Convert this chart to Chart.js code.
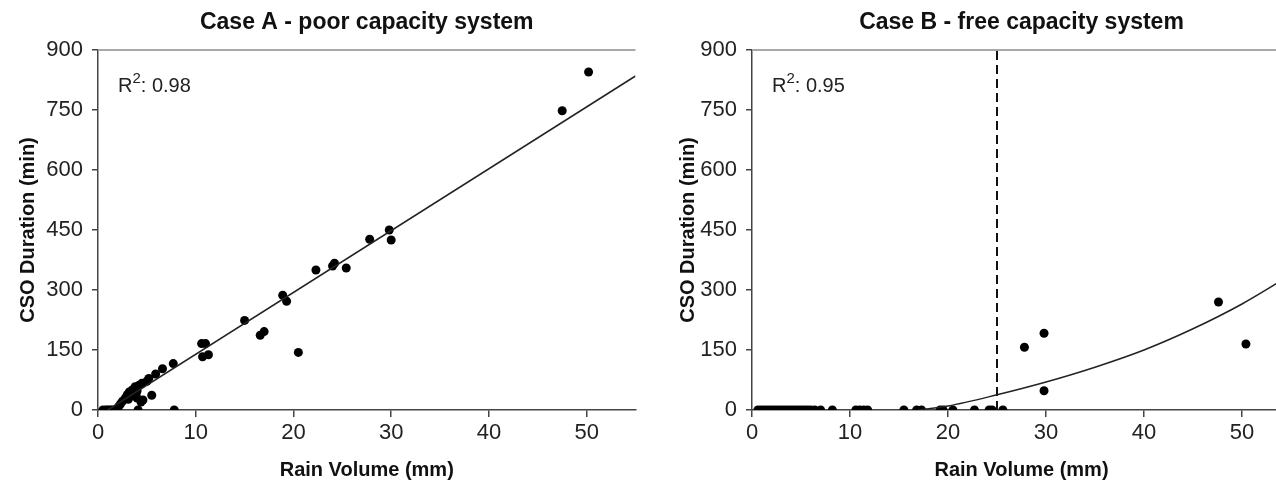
<!DOCTYPE html>
<html>
<head>
<meta charset="utf-8">
<script src="https://cdn.jsdelivr.net/npm/chart.js@4"></script>
<style>
  html, body { margin: 0; padding: 0; background: #fff; }
  body { width: 1276px; height: 486px; overflow: hidden; position: relative; }
  .panel { position: absolute; top: 0; height: 486px; }
  #panelA { left: 0; width: 640px; }
  #panelB { left: 640px; width: 660px; }
</style>
</head>
<body>
<div class="panel" id="panelA"><canvas id="chartA"></canvas></div>
<div class="panel" id="panelB"><canvas id="chartB"></canvas></div>
<script>
const FONT = "'Liberation Sans', Arial, sans-serif";

const xTickStep = 10;
const yTickStep = 150;
const xMax = 55;
const yMax = 900;

// Case A - poor capacity system
const caseARain = [
  0.5, 0.8, 1.0, 1.2, 1.4, 1.6, 1.9, 4.1, 7.8,
  2.1, 2.3, 2.5, 2.8, 3.0, 3.1, 3.2, 3.5, 3.6, 3.8, 3.9, 4.0, 4.0, 4.2, 4.4, 4.5, 4.6,
  5.0, 5.2, 5.5, 5.9, 6.6, 7.7,
  10.6, 11.0, 10.7, 11.3, 15.0, 16.6, 17.0, 18.9, 19.3, 20.5,
  22.3, 24.0, 24.2, 25.4, 27.8, 29.8, 30.0, 47.5, 50.2
];
const caseADuration = [
  0, 0, 0, 0, 0, 0, 0, 0, 0,
  8, 15, 22, 30, 38, 27, 45, 50, 35, 58, 42, 48, 30, 62, 20, 67, 25,
  72, 79, 37, 90, 103, 116,
  166, 166, 133, 138, 224, 187, 196, 287, 272, 144,
  350, 360, 367, 355, 427, 450, 425, 748, 845
];
const caseAFitRain = [1, 55];
const caseAFitDuration = [0, 835];

// Case B - free capacity system
const caseBRain = [
  0.6, 0.9, 1.2, 1.5, 1.8, 2.1, 2.4, 2.7, 3.0, 3.3, 3.6, 3.9, 4.2, 4.5, 4.8, 5.1,
  5.4, 5.7, 6.0, 6.4, 7.0, 8.2, 10.6, 11.0, 11.4, 11.8, 15.5, 16.8, 17.3, 19.2,
  19.5, 20.5, 22.7, 24.2, 24.5, 25.6,
  27.8, 29.8, 29.8, 47.6, 50.4
];
const caseBDuration = [
  0, 0, 0, 0, 0, 0, 0, 0, 0, 0, 0, 0, 0, 0, 0, 0,
  0, 0, 0, 0, 0, 0, 0, 0, 0, 0, 0, 0, 0, 0,
  0, 0, 0, 0, 0, 0,
  157, 192, 48, 270, 165
];
const caseBFitRain = [17, 20, 25, 30, 35, 40, 45, 50, 55];
const caseBFitDuration = [0, 10, 38, 70, 107, 150, 203, 265, 338];
const caseBThreshold = 25;

const toPoints = (xs, ys) => xs.map((x, i) => ({ x, y: ys[i] }));

const panelDecor = {
  id: "panelDecor",
  afterDraw(chart, args, opts) {
    const { ctx, chartArea } = chart;
    ctx.save();
    ctx.strokeStyle = "#a8a8a8";
    ctx.lineWidth = 2;
    ctx.beginPath();
    ctx.moveTo(chartArea.left, chartArea.top);
    ctx.lineTo(chartArea.right, chartArea.top);
    ctx.stroke();

    ctx.fillStyle = "#111";
    ctx.textBaseline = "alphabetic";
    ctx.textAlign = "center";
    ctx.font = `bold 23px ${FONT}`;
    ctx.fillText(opts.title, (chartArea.left + chartArea.right) / 2, 29);

    ctx.textAlign = "left";
    ctx.fillStyle = "#222";
    let x = chartArea.left + 20;
    const y = chartArea.top + 42;
    ctx.font = `20px ${FONT}`;
    ctx.fillText("R", x, y);
    x += ctx.measureText("R").width;
    ctx.font = `15px ${FONT}`;
    ctx.fillText("2", x, y - 9);
    x += ctx.measureText("2").width;
    ctx.font = `20px ${FONT}`;
    ctx.fillText(": " + opts.r2, x, y);
    ctx.restore();
  },
};

function makeScales(titleOffset) {
  const axisColor = "#444";
  return {
    x: {
      type: "linear",
      min: 0,
      max: xMax,
      ticks: {
        stepSize: xTickStep,
        includeBounds: false,
        color: "#222",
        font: { size: 22, family: FONT },
        padding: 3,
        maxRotation: 0,
      },
      grid: { drawOnChartArea: false, tickLength: 7, color: axisColor, lineWidth: 1.5 },
      border: { color: axisColor, width: 1.5 },
      title: {
        display: true,
        text: "Rain Volume (mm)",
        color: "#111",
        font: { size: 20, weight: "bold", family: FONT },
        padding: { top: 0, bottom: 4 },
      },
      afterFit(scale) { scale.height = 76; },
    },
    y: {
      min: 0,
      max: yMax,
      ticks: {
        stepSize: yTickStep,
        includeBounds: false,
        color: "#222",
        font: { size: 22, family: FONT },
        padding: 9,
      },
      grid: { drawOnChartArea: false, tickLength: 6, color: axisColor, lineWidth: 1.5 },
      border: { color: axisColor, width: 1.5 },
      title: {
        display: true,
        text: "CSO Duration (min)",
        color: "#111",
        font: { size: 20, weight: "bold", family: FONT },
        padding: { top: titleOffset, bottom: 0 },
      },
      afterFit(scale) { scale.width = 98; },
    },
  };
}

function makeChart(id, datasets, decor, padding, titleOffset) {
  return new Chart(document.getElementById(id), {
    type: "scatter",
    data: { datasets },
    options: {
      responsive: true,
      maintainAspectRatio: false,
      animation: false,
      layout: { padding },
      plugins: {
        legend: { display: false },
        tooltip: { enabled: false },
        panelDecor: decor,
      },
      scales: makeScales(titleOffset),
    },
    plugins: [panelDecor],
  });
}

const pointStyle = {
  pointRadius: 4.5,
  pointBackgroundColor: "#000",
  pointBorderWidth: 0,
  showLine: false,
};

makeChart(
  "chartA",
  [
    {
      type: "line",
      data: toPoints(caseAFitRain, caseAFitDuration),
      borderColor: "#222",
      borderWidth: 1.5,
      pointRadius: 0,
      fill: false,
    },
    { data: toPoints(caseARain, caseADuration), ...pointStyle },
  ],
  { title: "Case A - poor capacity system", r2: "0.98" },
  { top: 50, left: 0, right: 4, bottom: 0 },
  16
);

makeChart(
  "chartB",
  [
    {
      type: "line",
      data: toPoints(caseBFitRain, caseBFitDuration),
      borderColor: "#222",
      borderWidth: 1.5,
      pointRadius: 0,
      cubicInterpolationMode: "monotone",
      fill: false,
    },
    {
      type: "line",
      data: toPoints([caseBThreshold, caseBThreshold], [0, yMax]),
      borderColor: "#111",
      borderWidth: 2,
      borderDash: [9, 5],
      pointRadius: 0,
      fill: false,
    },
    { data: toPoints(caseBRain, caseBDuration), ...pointStyle },
  ],
  { title: "Case B - free capacity system", r2: "0.95" },
  { top: 50, left: 14, right: 9, bottom: 0 },
  22
);
</script>
</body>
</html>
